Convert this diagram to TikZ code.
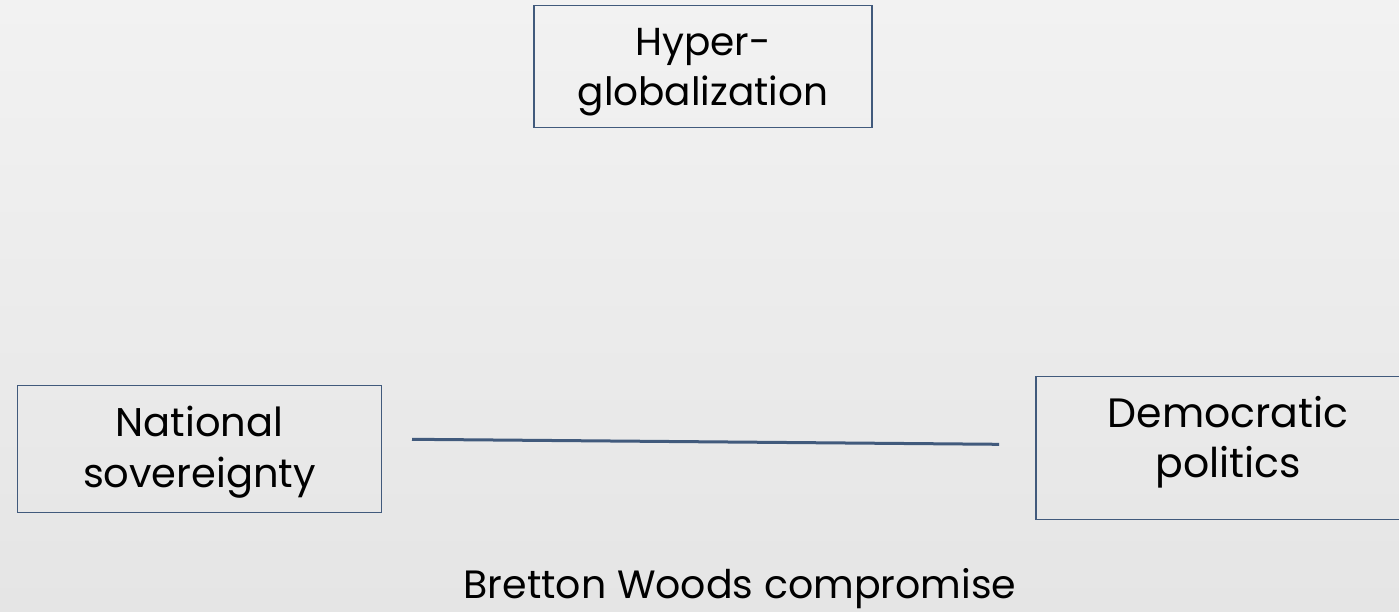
\documentclass[tikz,border=0pt]{standalone}
\usepackage{fontspec}
\setmainfont{Poppins}
\definecolor{boxblue}{RGB}{65,90,124}
\definecolor{bgtop}{RGB}{242,242,242}
\definecolor{bgbot}{RGB}{229,229,229}
\begin{document}
\begin{tikzpicture}[x=1pt,y=-1pt,
  box/.style={draw=boxblue,line width=1.6pt,inner sep=0pt},
  lbl/.style={align=center,inner sep=0pt,text=black},
  conn/.style={draw=boxblue,line width=3pt}]
\clip (0,0) rectangle (1399,611);
\shade[top color=bgtop,bottom color=bgbot] (0,0) rectangle (1399,611);
\useasboundingbox (0,0) rectangle (1399,611);
% boxes
\node[box,minimum width=338pt,minimum height=122pt] (hg) at (703,66.5) {};
\node[box,minimum width=364pt,minimum height=127pt] (ns) at (199.5,449) {};
\node[box,minimum width=384pt,minimum height=143pt] (dp) at (1228,448) {};
% texts
\node[lbl,font=\fontsize{39}{50}\selectfont] (hgt) at (703,72.3) {Hyper-\\globalization};
\node[lbl,font=\fontsize{40}{51}\selectfont] (nst) at (199.5,451.7) {National\\sovereignty};
\node[lbl,font=\fontsize{41}{50}\selectfont] (dpt) at (1228,442.4) {Democratic\\politics};
\node[lbl,font=\fontsize{39.5}{50}\selectfont,anchor=base] (bw) at (740,598.5) {Bretton Woods compromise};
% connector
\coordinate (l1) at (412,439.3);
\coordinate (l2) at (999,444.3);
\draw[conn] (l1) -- (l2);
\end{tikzpicture}
\end{document}
